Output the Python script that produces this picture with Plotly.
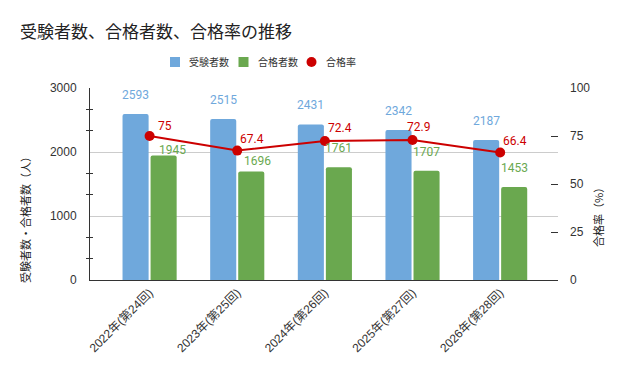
import plotly.graph_objects as go

# ---- data ----
categories = ["2022年(第24回)", "2023年(第25回)", "2024年(第26回)", "2025年(第27回)", "2026年(第28回)"]
examinees = [2593, 2515, 2431, 2342, 2187]
passers = [1945, 1696, 1761, 1707, 1453]
pass_rate = [75, 67.4, 72.4, 72.9, 66.4]
left_ticks = [0, 1000, 2000, 3000]
right_ticks = [0, 25, 50, 75, 100]

# ---- styling ----
BLUE = "#6fa8dc"
GREEN = "#6aa84f"
RED = "#cc0000"
W, H = 642, 371
L, R, T, B = 90, 84, 88, 91
PW, PH = W - L - R, H - T - B
CJK = "Noto Sans CJK JP"
TICKFONT = "Liberation Sans, Arial, Noto Sans CJK JP"
NUMFONT = "Roboto, Noto Sans CJK JP"

# label offsets (pixels)
green_dx = [9, 6, 0, 0, 0]
green_dy = [6, 10, 19, 19, 19]
red_dx = [15, 15, 15, 6, 15]
red_dy = [10, 12, 13, 13, 12]


def px2x(px):
    return (px - L) / PW


def py2y(py):
    return (H - B - py) / PH


fig = go.Figure()
fig.add_trace(go.Bar(x=categories, y=examinees, name="受験者数", marker_color=BLUE,
                     marker_line_width=0, showlegend=False, hoverinfo="skip"))
fig.add_trace(go.Bar(x=categories, y=passers, name="合格者数", marker_color=GREEN,
                     marker_line_width=0, showlegend=False, hoverinfo="skip"))
fig.add_trace(go.Scatter(x=categories, y=pass_rate, name="合格率", yaxis="y2",
                         mode="lines+markers", line=dict(color=RED, width=2),
                         marker=dict(color=RED, size=10), showlegend=False,
                         hoverinfo="skip"))
# helper trace to draw inner halves of the minor ticks
fig.add_trace(go.Scatter(x=[None], y=[None], yaxis="y3", showlegend=False, hoverinfo="skip"))

minor_vals = [v for v in [i * 1000 / 3 for i in range(10)] if v not in left_ticks]

ann = []
for i, c in enumerate(categories):
    ann.append(dict(x=c, y=examinees[i], xref="x", yref="y", text=str(examinees[i]),
                    showarrow=False, xshift=-14, yshift=19, yanchor="middle",
                    font=dict(family=NUMFONT, size=12, color=BLUE)))
    ann.append(dict(x=c, y=passers[i], xref="x", yref="y", text=str(passers[i]),
                    showarrow=False, xshift=14 + green_dx[i], yshift=green_dy[i], yanchor="middle",
                    font=dict(family=NUMFONT, size=12, color=GREEN)))
    ann.append(dict(x=c, y=pass_rate[i], xref="x", yref="y2", text=str(pass_rate[i]),
                    showarrow=False, xshift=red_dx[i], yshift=red_dy[i], yanchor="middle",
                    font=dict(family=NUMFONT, size=12, color=RED)))

# axis titles
ann.append(dict(x=px2x(25), y=py2y(217), xref="paper", yref="paper", text="受験者数・合格者数（人）",
                textangle=-90, showarrow=False, xanchor="center", yanchor="middle",
                font=dict(family=CJK, size=11, color="#222")))
ann.append(dict(x=px2x(598), y=py2y(215), xref="paper", yref="paper", text="合格率（%）",
                textangle=-90, showarrow=False, xanchor="center", yanchor="middle",
                font=dict(family=CJK, size=11, color="#222")))

# manual legend
legend_items = [("受験者数", BLUE, "square", 175), ("合格者数", GREEN, "square", 243.5),
                ("合格率", RED, "circle", 311.5)]
shapes = []
ly = 62
for name, col, kind, cx in legend_items:
    shapes.append(dict(type="rect" if kind == "square" else "circle", xref="paper", yref="paper",
                       x0=px2x(cx - 5), x1=px2x(cx + 5), y0=py2y(ly + 5), y1=py2y(ly - 5),
                       fillcolor=col, line=dict(width=0)))
    ann.append(dict(x=px2x(cx + 12), y=py2y(ly), xref="paper", yref="paper", text=name,
                    xanchor="left", yanchor="middle", showarrow=False,
                    font=dict(family=CJK, size=10, color="#333")))

fig.update_layout(
    width=W, height=H,
    margin=dict(l=L, r=R, t=T, b=B, autoexpand=False),
    paper_bgcolor="white", plot_bgcolor="white",
    barmode="group", bargap=0.36, bargroupgap=0.07, barcornerradius=2,
    title=dict(text="受験者数、合格者数、合格率の推移", x=20 / W, xanchor="left", xref="container",
               y=1 - 32 / H, yanchor="middle", yref="container",
               font=dict(family=CJK, size=17, color="#222")),
    xaxis=dict(type="category", range=[-0.68, 4.66], showline=True, linecolor="#333",
               linewidth=1, ticks="", tickangle=-45, showgrid=False,
               tickfont=dict(family=TICKFONT, size=12, color="#333")),
    yaxis=dict(range=[0, 3000], tickmode="array", tickvals=left_ticks, ticks="",
               showline=True, linecolor="#333", linewidth=1, showgrid=True,
               gridcolor="#cccccc", gridwidth=1, zeroline=False, ticklabelstandoff=10,
               minor=dict(tickmode="array", tickvals=minor_vals, ticks="outside", ticklen=3,
                          tickcolor="#333", showgrid=False),
               tickfont=dict(family=TICKFONT, size=12, color="#333")),
    yaxis2=dict(range=[0, 100], overlaying="y", side="right", tickmode="array",
                tickvals=right_ticks, ticks="inside", ticklen=7, tickcolor="#333",
                showgrid=False, zeroline=False, showline=False, ticklabelstandoff=11,
                tickfont=dict(family=TICKFONT, size=12, color="#333")),
    yaxis3=dict(range=[0, 3000], overlaying="y", side="left", anchor="x", tickmode="array",
                tickvals=minor_vals, ticks="inside", ticklen=3, tickcolor="#333",
                showticklabels=False, showgrid=False, zeroline=False, showline=False),
    annotations=ann,
    shapes=shapes,
    showlegend=False,
)

fig.write_html("out.html")
